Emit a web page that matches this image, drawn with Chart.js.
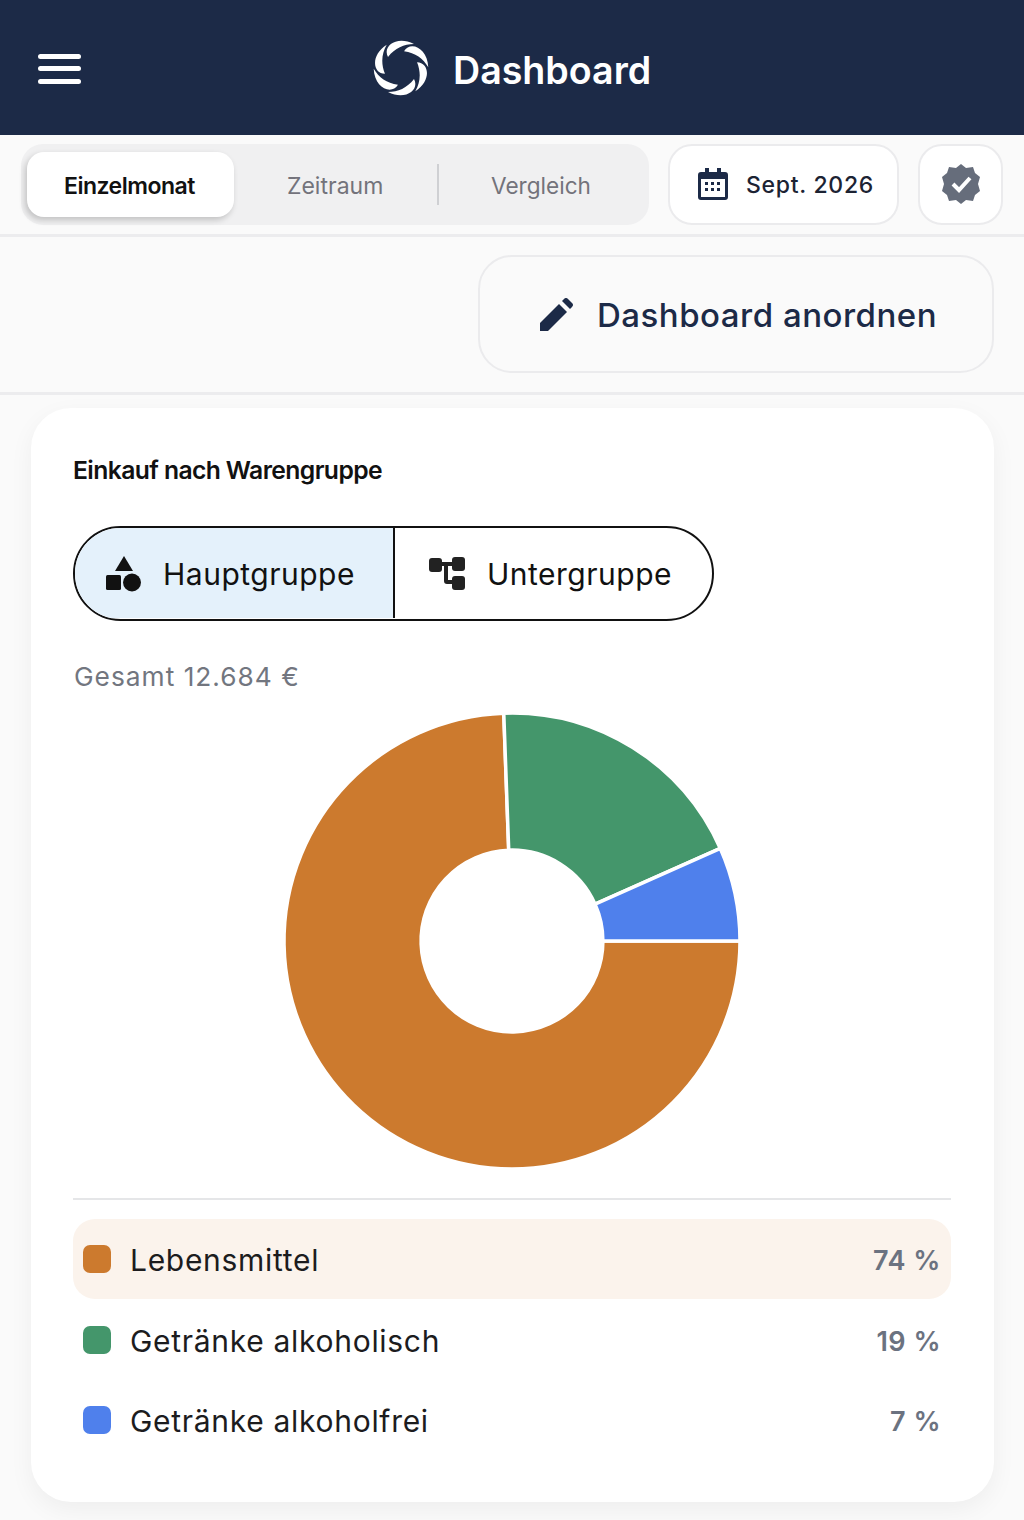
<!DOCTYPE html>
<html lang="de">
<head>
<meta charset="utf-8">
<title>Dashboard</title>
<script src="https://cdn.jsdelivr.net/npm/chart.js@4/dist/chart.umd.min.js"></script>
<style>
html, body { margin: 0; padding: 0; }
body { width: 1024px; height: 1520px; position: relative; overflow: hidden; background: #fafafa; font-family: Inter, "Noto Sans", sans-serif; color: #111; }
.abs { position: absolute; box-sizing: border-box; }
.txt { position: absolute; white-space: nowrap; line-height: 1; }
svg { position: absolute; display: block; }
#header { left: 0; top: 0; width: 1024px; height: 135px; background: #1c2a47; }
#tabs { left: 21px; top: 144px; width: 628px; height: 81px; background: #f0f0f1; border-radius: 22px; }
#tabOn { left: 27px; top: 152px; width: 207px; height: 65px; background: #fff; border-radius: 17px; box-shadow: -2px 3px 6px rgba(0,0,0,.2); }
.btn { background: #fff; border: 2px solid #ebebed; }
#card { left: 31px; top: 408px; width: 963px; height: 1094px; background: #fff; border-radius: 40px; box-shadow: 0 8px 24px rgba(0,0,0,.05); }
#toggle { left: 73px; top: 526px; width: 641px; height: 95px; border: 2.500px solid #111; border-radius: 48px; overflow: hidden; background: #fff; }
#toggleOn { left: 0; top: 0; width: 320px; height: 90px; background: #e4f1fb; border-right: 2.500px solid #111; }
#chartBox { left: 272px; top: 701px; width: 480px; height: 480px; }
#rule { left: 73px; top: 1198px; width: 878px; height: 2px; background: #e5e6e8; }
.row { position: absolute; left: 73px; width: 878px; height: 80px; border-radius: 22px; }
.swatch { position: absolute; left: 10px; top: 26px; width: 28px; height: 28px; border-radius: 7px; }
.name { position: absolute; left: 57px; top: 24px; font-size: 30px; line-height: 34px; color: #1c1c1e; letter-spacing: 0.7px; white-space: nowrap; }
.pct { position: absolute; right: 10px; top: 25px; font-size: 27px; line-height: 34px; font-weight: 600; color: #6b7280; white-space: nowrap; letter-spacing: 0.5px; }
</style>
</head>
<body>
<div class="abs" id="header"></div>
<svg style="left:38px;top:54px" width="43" height="30" viewBox="0 0 43 30"><g fill="#fff"><rect width="43" height="5" rx="2.5"/><rect y="12" width="43" height="5" rx="2.5"/><rect y="25" width="43" height="5" rx="2.5"/></g></svg>
<svg style="left:371px;top:38px" width="60" height="60" viewBox="-30 -30 60 60"><g fill="#fff">
<path id="aspa" d="M-13 -11 C-19 -22 -4 -33 13 -24 C3 -24 -6 -20 -13 -11z"/>
<use href="#aspa" transform="rotate(60)"/>
<use href="#aspa" transform="rotate(120)"/>
<use href="#aspa" transform="rotate(180)"/>
<use href="#aspa" transform="rotate(240)"/>
<use href="#aspa" transform="rotate(300)"/>
</g></svg>
<div class="txt" style="left:453px;top:52px;font-size:37.600px;font-weight:600;color:#fff">Dashboard</div>

<div class="abs" id="tabs"></div>
<div class="abs" id="tabOn"></div>
<div class="txt" style="left:64px;top:175px;font-size:23px;font-weight:600;color:#111;letter-spacing:-0.5px">Einzelmonat</div>
<div class="txt" style="left:287px;top:175px;font-size:23px;color:#73737b">Zeitraum</div>
<div class="abs" style="left:437px;top:164px;width:2px;height:41px;background:#cfd0d3"></div>
<div class="txt" style="left:491px;top:175px;font-size:22.600px;color:#73737b">Vergleich</div>

<div class="abs btn" style="left:668px;top:144px;width:231px;height:81px;border-radius:24px"></div>
<svg style="left:698px;top:168px" width="30" height="32" viewBox="0 0 30 32"><path fill="#1c2a47" d="M3 4h4V0h4v4h8V0h4v4h4a3 3 0 0 1 3 3v22a3 3 0 0 1-3 3H3a3 3 0 0 1-3-3V7a3 3 0 0 1 3-3z"/><rect x="3" y="11" width="24" height="18" fill="#fff"/><g fill="#1c2a47"><rect x="7" y="14" width="3" height="3"/><rect x="13" y="14" width="3" height="3"/><rect x="19" y="14" width="3" height="3"/><rect x="7" y="20" width="3" height="3"/><rect x="13" y="20" width="3" height="3"/><rect x="19" y="20" width="3" height="3"/></g></svg>
<div class="txt" style="left:746px;top:174px;font-size:23px;font-weight:500;color:#1c2333;letter-spacing:0.7px">Sept. 2026</div>
<div class="abs btn" style="left:918px;top:144px;width:85px;height:81px;border-radius:24px"></div>
<svg style="left:941px;top:164px" width="40" height="40" viewBox="-20 -20 40 40"><path fill="#666d7b" d="M0-20 5-16 12-17 14-11 19-7 17 0 19 7 14 11 12 17 5 16 0 20-5 16-12 17-14 11-19 7-17 0-19-7-14-11-12-17-5-16z"/><path fill="none" stroke="#fff" stroke-width="4" d="M-8 0-2 6 9-6"/></svg>
<div class="abs" style="left:0;top:234px;width:1024px;height:3px;background:#ececee"></div>

<div class="abs btn" style="left:478px;top:255px;width:516px;height:118px;border-radius:34px;background:#fafafa"></div>
<svg style="left:540px;top:298px" width="33" height="33" viewBox="0 0 33 33"><path fill="#1c2a47" d="M0 33V25L19 6l8 8L8 33zM22 3l2-2a2.800 2.800 0 0 1 4 0l4 4a2.800 2.800 0 0 1 0 4l-2 2z"/></svg>
<div class="txt" style="left:597px;top:299px;font-size:33px;font-weight:500;color:#1c2a47;letter-spacing:0.5px">Dashboard anordnen</div>
<div class="abs" style="left:0;top:392px;width:1024px;height:3px;background:#ececee"></div>

<div class="abs" id="card"></div>
<div class="txt" style="left:73px;top:458px;font-size:24.700px;font-weight:600;color:#111;letter-spacing:-0.6px">Einkauf nach Warengruppe</div>

<div class="abs" id="toggle"><div class="abs" id="toggleOn"></div></div>
<svg style="left:105px;top:556px" width="38" height="36" viewBox="0 0 38 36"><g fill="#111"><path d="M19 0 28 15H10z"/><rect x="1" y="19" width="15" height="15" rx="1.5"/><circle cx="27" cy="26.500" r="9"/></g></svg>
<div class="txt" style="left:163px;top:559px;font-size:30px;color:#111;letter-spacing:0.5px">Hauptgruppe</div>
<svg style="left:428px;top:556px" width="38" height="36" viewBox="0 0 38 36"><g fill="#222"><rect x="1" y="2" width="13" height="14" rx="3"/><rect x="24" y="1" width="13" height="14" rx="3"/><rect x="24" y="20" width="13" height="14" rx="3"/><path d="M14 6h10v4h-4v14h4v4h-5a3 3 0 0 1-3-3V10h-2z"/></g></svg>
<div class="txt" style="left:487px;top:559px;font-size:30px;color:#111;letter-spacing:0.5px">Untergruppe</div>

<div class="txt" id="total" style="left:74px;top:664px;font-size:26.300px;color:#72767f;letter-spacing:1px"></div>

<div class="abs" id="chartBox"><canvas id="donut" width="480" height="480"></canvas></div>
<div class="abs" id="rule"></div>
<div id="legend"></div>

<script>
/* Datos del grafico: euros estimados de los angulos, suman el total */
const categorias = ['Lebensmittel', 'Getränke alkoholisch', 'Getränke alkoholfrei'];
const werte = [9440, 2400, 844];
const porcentajes = ['74 %', '19 %', '7 %'];
const colores = ['#cc7a2e', '#44966b', '#4f80ec'];
const gesamt = '12.684 €';

document.getElementById('total').textContent = 'Gesamt ' + gesamt;

const donut = new Chart(document.getElementById('donut'), {
    type: 'doughnut',
    data: {
        labels: categorias,
        datasets: [{
            data: werte,
            backgroundColor: colores,
            borderColor: '#fff',
            borderWidth: 3.5
        }]
    },
    options: {
        responsive: false,
        animation: false,
        rotation: 90,
        radius: 228,
        cutout: 95,
        plugins: { legend: { display: false }, tooltip: { enabled: false } }
    }
});

/* Leyenda */
const legend = document.getElementById('legend');
const filaTop = [1219, 1299.5, 1379.5];
categorias.forEach((nombre, i) => {
    const fila = document.createElement('div');
    fila.className = 'row';
    fila.style.top = filaTop[i] + 'px';
    if (i === 0) fila.style.background = '#fbf3ec';
    fila.innerHTML = '<span class="swatch" style="background:' + colores[i] + '"></span>' +
        '<span class="name">' + nombre + '</span>' +
        '<span class="pct">' + porcentajes[i] + '</span>';
    legend.appendChild(fila);
});
</script>
</body>
</html>
